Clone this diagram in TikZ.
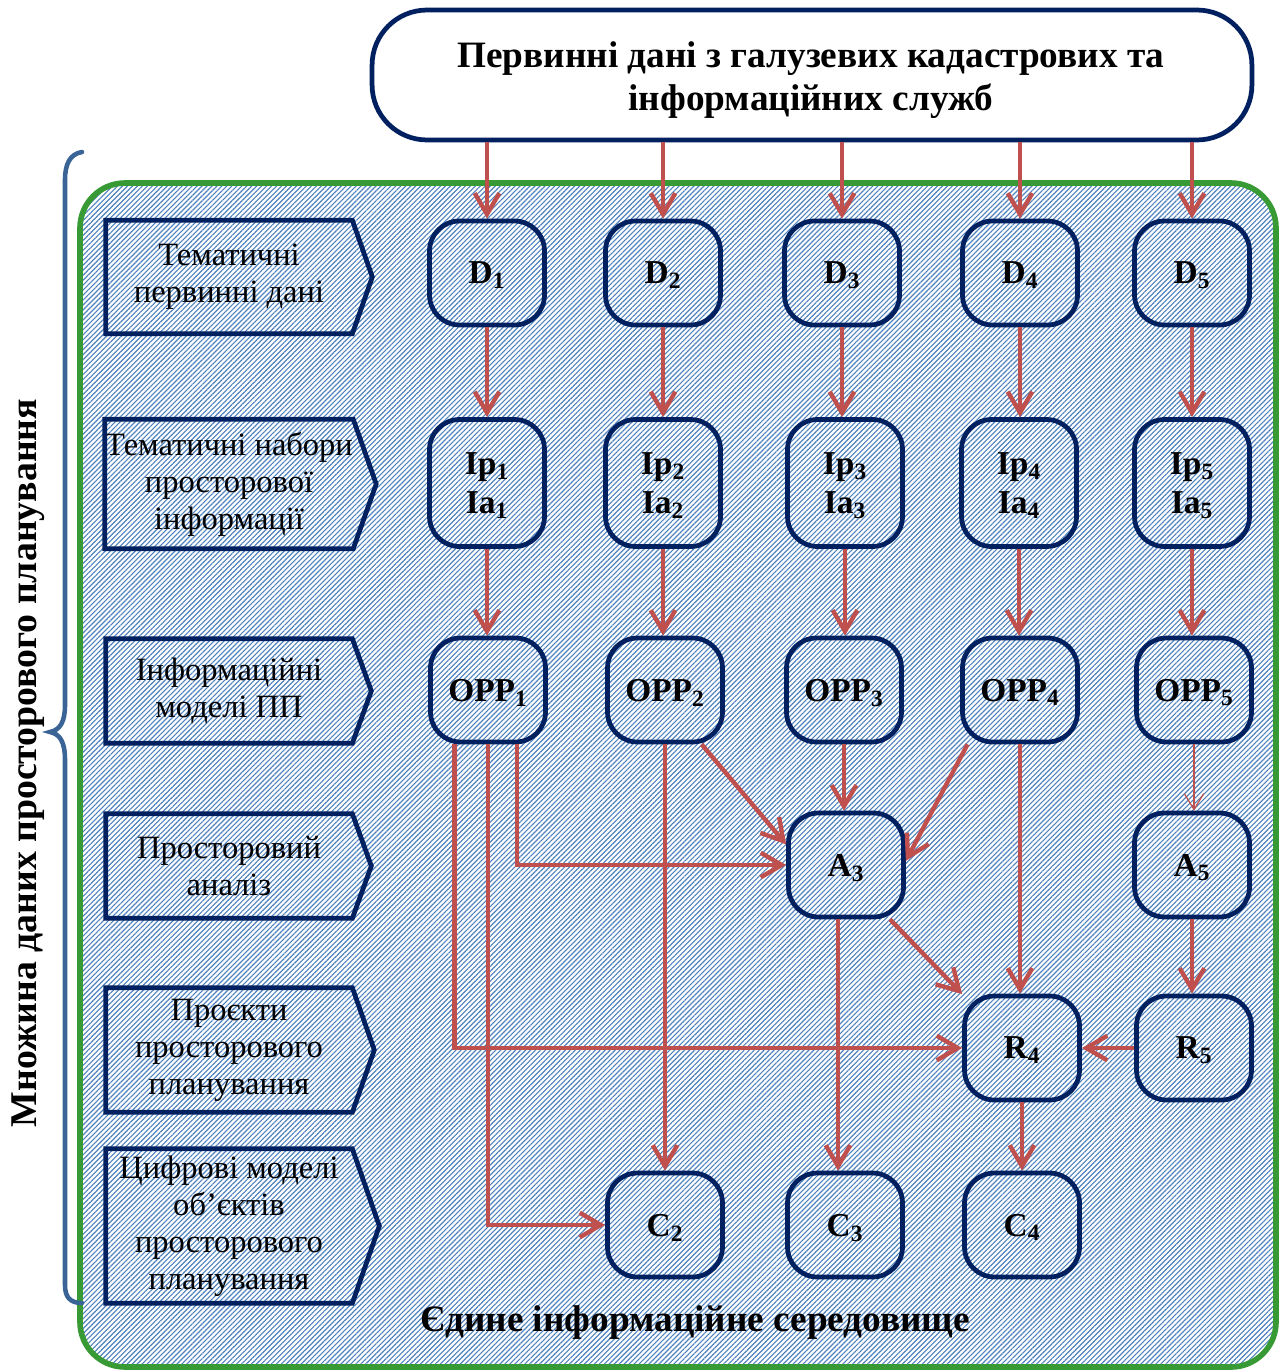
\documentclass[tikz,border=0pt]{standalone}
\usepackage{fontspec}
\setmainfont{Liberation Serif}
\usetikzlibrary{arrows.meta,calc,patterns.meta}
\definecolor{navy}{RGB}{0,32,96}
\definecolor{arrowred}{RGB}{192,80,77}
\definecolor{frameGreen}{RGB}{56,154,52}
\definecolor{braceblue}{RGB}{59,100,150}
\definecolor{hatch}{RGB}{79,129,189}

\begin{document}
\begin{tikzpicture}[x=0.02cm,y=-0.02cm,
  blk/.style={draw=navy,line width=2.7pt,rounded corners=0.6cm,minimum width=2.3cm,
    minimum height=2.08cm,inner sep=0pt,align=center,text depth=0pt,
    font=\bfseries\fontsize{19}{22}\selectfont},
  lbl/.style={minimum width=4.92cm,inner sep=0pt,align=center,
    font=\fontsize{18.5}{21}\selectfont},
  lblframe/.style={draw=navy,line width=2.7pt},
  arr/.style={draw=arrowred,line width=2.5pt,
    -{Straight Barb[length=12pt,width=14pt]}},
  thinarr/.style={draw=arrowred,line width=0.7pt,
    -{Straight Barb[length=9pt,width=11pt]}},
  bigtext/.style={font=\bfseries\fontsize{21.2}{24.5}\selectfont}
]
\useasboundingbox (0,0) rectangle (1284,1372);

% common environment frame with hatching
\draw[frameGreen,line width=3.2pt,rounded corners=0.9cm,
  pattern={Lines[angle=45,distance=2pt,line width=0.65pt]},pattern color=hatch]
  (80,183) rectangle (1276,1367);

% left brace
\draw[braceblue,line width=2.6pt,line cap=round]
  (82,152) .. controls (70,154) and (65,164) .. (65,180) -- (65,705)
  .. controls (65,722) and (60,730) .. (50,732)
  .. controls (60,734) and (65,742) .. (65,760) -- (65,1285)
  .. controls (65,1297) and (70,1303) .. (82,1303);
\node[rotate=90,bigtext,font=\bfseries\fontsize{21.5}{24}\selectfont] (setlabel) at (28,763) {Множина даних просторового планування};

% source box
\node[draw=navy,line width=2.7pt,rounded corners=1.1cm,fill=white,
  minimum width=17.6cm,minimum height=2.6cm,align=center,bigtext]
  (src) at (812,75) {};
\node[bigtext,align=center] (srctext) at (811,80) {Первинні дані з галузевих кадастрових та\\інформаційних служб};

% row labels
\node[lbl,minimum height=2.26cm] (L1) at (229,277) {Тематичні\\первинні дані};
\node[lbl,minimum height=2.58cm] (L2) at (229,484) {Тематичні набори\\просторової\\інформації};
\node[lbl,minimum height=2.08cm] (L3) at (229,691) {Інформаційні\\моделі ПП};
\node[lbl,minimum height=2.08cm] (L4) at (229,866) {Просторовий\\аналіз};
\node[lbl,minimum height=2.48cm] (L5) at (229,1050) {Проєкти\\просторового\\планування};
\node[lbl,minimum height=3.08cm] (L6) at (229,1226) {Цифрові моделі\\об’єктів\\просторового\\планування};
\foreach \n/\d in {L1/20,L2/23,L3/19,L4/19,L5/22,L6/27}{
  \draw[lblframe] (\n.north west) -- (\n.north east) -- ($(\n.east)+(\d,0)$)
    -- (\n.south east) -- (\n.south west) -- cycle;
}

% thematic primary data
\node[blk] (D1) at (487,273) {D\textsubscript{1}};
\node[blk] (D2) at (663,273) {D\textsubscript{2}};
\node[blk] (D3) at (842,273) {D\textsubscript{3}};
\node[blk] (D4) at (1020,273) {D\textsubscript{4}};
\node[blk] (D5) at (1192,273) {D\textsubscript{5}};

% thematic sets
\node[blk,minimum height=2.54cm] (I1) at (487,483) {Ip\textsubscript{1}\\Ia\textsubscript{1}};
\node[blk,minimum height=2.54cm] (I2) at (663,483) {Ip\textsubscript{2}\\Ia\textsubscript{2}};
\node[blk,minimum height=2.54cm] (I3) at (845,483) {Ip\textsubscript{3}\\Ia\textsubscript{3}};
\node[blk,minimum height=2.54cm] (I4) at (1019,483) {Ip\textsubscript{4}\\Ia\textsubscript{4}};
\node[blk,minimum height=2.54cm] (I5) at (1192,483) {Ip\textsubscript{5}\\Ia\textsubscript{5}};

% information models
\node[blk] (O1) at (488,690) {OPP\textsubscript{1}};
\node[blk] (O2) at (665,690) {OPP\textsubscript{2}};
\node[blk] (O3) at (844,690) {OPP\textsubscript{3}};
\node[blk] (O4) at (1020,690) {OPP\textsubscript{4}};
\node[blk] (O5) at (1194,690) {OPP\textsubscript{5}};

% analysis
\node[blk] (A3) at (846,865) {A\textsubscript{3}};
\node[blk] (A5) at (1192,865) {A\textsubscript{5}};

% projects
\node[blk] (R4) at (1022,1048) {R\textsubscript{4}};
\node[blk] (R5) at (1194,1048) {R\textsubscript{5}};

% digital models
\node[blk] (C2) at (665,1225) {C\textsubscript{2}};
\node[blk] (C3) at (845,1225) {C\textsubscript{3}};
\node[blk] (C4) at (1022,1225) {C\textsubscript{4}};

\node[bigtext] (env) at (695,1323) {Єдине інформаційне середовище};

% flows
\foreach \i in {1,...,5}{
  \draw[arr] (src.south -| D\i) -- (D\i.north);
  \draw[arr] (D\i.south) -- (D\i.south |- I\i.north);
  \draw[arr] (I\i.south) -- (I\i.south |- O\i.north);
}
\draw[arr] ($(O1.south west)!0.22!(O1.south east)$) |- (R4.west);
\draw[arr] (O1.south) |- (C2.west);
\draw[arr] ($(O1.south west)!0.74!(O1.south east)$) |- (A3.west);
\draw[arr] (O2.south) -- (O2.south |- C2.north);
\draw[arr] (O2.-56) -- (A3.161);
\draw[arr] (O3.south) -- (O3.south |- A3.north);
\draw[arr] (O4.-134) -- (A3.4);
\draw[arr] (O4.south) -- (O4.south |- R4.north);
\draw[thinarr] (O5.south) -- (O5.south |- A5.north);
\draw[arr] (A5.south) -- (A5.south |- R5.north);
\draw[arr] (A3.-51) -- (R4.138);
\draw[arr] ([xshift=-0.16cm]A3.south) -- ([xshift=-0.16cm]A3.south |- C3.north);
\draw[arr] (R5.west) -- (R4.east);
\draw[arr] (R4.south) -- (R4.south |- C4.north);
\end{tikzpicture}
\end{document}
